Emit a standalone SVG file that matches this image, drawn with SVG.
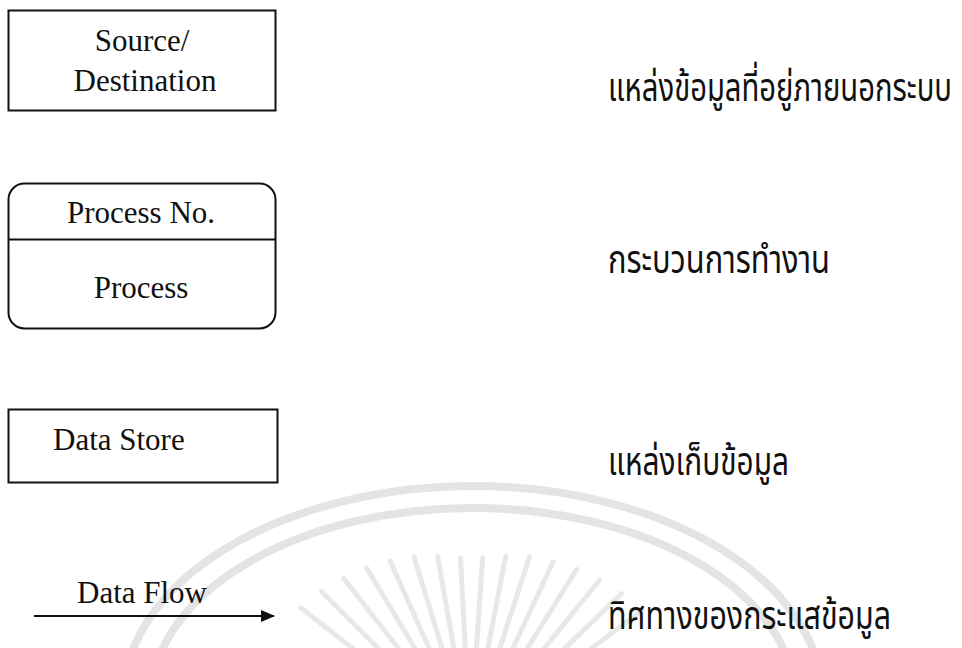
<svg xmlns="http://www.w3.org/2000/svg" width="962" height="648" viewBox="0 0 962 648">
<style>
.en{font-family:"Liberation Serif","Times New Roman",serif;font-size:31px;fill:#111}
.th{font-family:"Noto Sans Thai","Noto Sans","DejaVu Sans",sans-serif;font-size:30px;fill:#111}
.box{fill:none;stroke:#111;stroke-width:2}
.wm{fill:none;stroke:#e4e4e4;stroke-width:8}
.ray{stroke:#e8e8e8;stroke-width:5;stroke-linecap:round}
</style>
<defs>
<marker id="ah" markerWidth="14" markerHeight="12" refX="13" refY="6" orient="auto" markerUnits="userSpaceOnUse">
<path d="M0,0 L14,6 L0,12 Z" fill="#111"/>
</marker>
</defs>
<rect width="962" height="648" fill="#fff"/>
<g id="watermark">
<path class="wm" d="M123,700 A350,214 0 0 1 823,700"/>
<path class="wm" d="M151,700 A322,192 0 0 1 795,700"/>
<g class="ray">
<line x1="300.8" y1="607.8" x2="422.7" y2="703"/>
<line x1="321.5" y1="591.5" x2="427.6" y2="697.6"/>
<line x1="343.6" y1="578.2" x2="433" y2="692.7"/>
<line x1="366.6" y1="568" x2="439.1" y2="688.6"/>
<line x1="390.2" y1="560.9" x2="445.6" y2="685.2"/>
<line x1="414.1" y1="557.1" x2="452.5" y2="682.6"/>
<line x1="437.6" y1="556.1" x2="459.6" y2="680.9"/>
<line x1="460.5" y1="558.2" x2="466.9" y2="680.1"/>
<line x1="482.7" y1="557.7" x2="474.2" y2="680.1"/>
<line x1="505.8" y1="556.1" x2="481.5" y2="681.1"/>
<line x1="529.3" y1="557.4" x2="488.5" y2="682.9"/>
<line x1="553.2" y1="561.8" x2="495.4" y2="685.6"/>
<line x1="576.7" y1="569.3" x2="501.8" y2="689.1"/>
<line x1="599.6" y1="580" x2="507.7" y2="693.4"/>
<line x1="621.5" y1="593.6" x2="513.1" y2="698.3"/>
<line x1="642" y1="610.4" x2="517.9" y2="703.9"/>
</g>
</g>
<g id="source">
<rect class="box" x="8.5" y="10.5" width="267" height="100"/>
<text class="en" x="142" y="51" text-anchor="middle">Source/</text>
<text class="en" x="145" y="91" text-anchor="middle">Destination</text>
</g>
<g id="process">
<rect class="box" x="8.5" y="183.5" width="267" height="145" rx="16"/>
<line x1="8.5" y1="239.5" x2="275.5" y2="239.5" stroke="#111" stroke-width="2"/>
<text class="en" x="141" y="223" text-anchor="middle">Process No.</text>
<text class="en" x="141" y="298" text-anchor="middle">Process</text>
</g>
<g id="datastore">
<rect class="box" x="8.5" y="409.5" width="269" height="73"/>
<text class="en" x="53" y="450">Data Store</text>
</g>
<g id="dataflow">
<text class="en" x="77" y="603">Data Flow</text>
</g>
<g id="connectors">
<line x1="34" y1="616" x2="274" y2="616" stroke="#111" stroke-width="2" marker-end="url(#ah)"/>
</g>
<g id="labels">
<text class="th" transform="translate(608,101) scale(1,1.3)" x="0" y="0" textLength="344" lengthAdjust="spacingAndGlyphs">แหล่งข้อมูลที่อยู่ภายนอกระบบ</text>
<text class="th" transform="translate(608,273) scale(1,1.3)" x="0" y="0" textLength="222" lengthAdjust="spacingAndGlyphs">กระบวนการทำงาน</text>
<text class="th" transform="translate(608,475) scale(1,1.3)" x="0" y="0" textLength="181" lengthAdjust="spacingAndGlyphs">แหล่งเก็บข้อมูล</text>
<text class="th" transform="translate(608,629) scale(1,1.3)" x="0" y="0" textLength="283" lengthAdjust="spacingAndGlyphs">ทิศทางของกระแสข้อมูล</text>
</g>
</svg>
